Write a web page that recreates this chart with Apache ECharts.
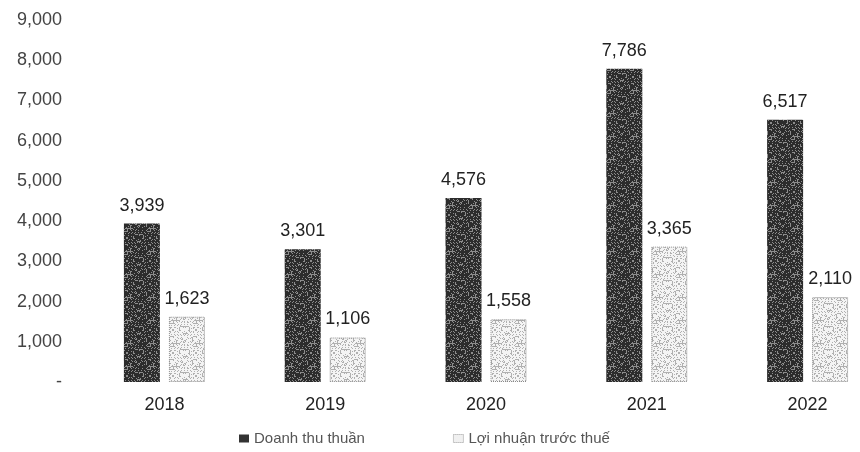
<!DOCTYPE html>
<html>
<head>
<meta charset="utf-8">
<script src="https://cdn.jsdelivr.net/npm/echarts@6/dist/echarts.min.js"></script>
<style>
  html, body { margin: 0; padding: 0; background: #fff; }
  #chart { width: 860px; height: 452px; }
</style>
</head>
<body>
<div id="chart"></div>
<script>
var years = ['2018', '2019', '2020', '2021', '2022']
var doanhThu = [3939, 3301, 4576, 7786, 6517]
var loiNhuan = [1623, 1106, 1558, 3365, 2110]
var seriesNames = ['Doanh thu thuần', 'Lợi nhuận trước thuế']

var font = 'Liberation Sans, Arial, sans-serif'

// repeating speckle texture, fixed hash so it looks like the printed screen
function makePattern (base, speck, cut) {
  var n = 23
  var c = document.createElement('canvas')
  c.width = n
  c.height = n
  var ctx = c.getContext('2d')
  ctx.fillStyle = base
  ctx.fillRect(0, 0, n, n)
  ctx.fillStyle = speck
  for (var x = 0; x < n; x++) {
    for (var y = 0; y < n; y++) {
      var h = (x * 73 + y * 151 + x * y * 29) % 97
      if (h < cut) ctx.fillRect(x, y, 1, 1)
    }
  }
  return { image: c, repeat: 'repeat' }
}
var darkFill = makePattern('#2c2c2c', '#8c8c8c', 22)
var lightFill = makePattern('#f4f4f4', '#b0b0b0', 26)

var chart = echarts.init(document.getElementById('chart'))

chart.setOption({
  backgroundColor: '#fff',
  animation: false,
  textStyle: { fontFamily: font },
  grid: {
    left: 84,
    top: 20,
    right: -28,
    bottom: 70,
    outerBoundsMode: 'none'
  },
  legend: {
    top: 426,
    left: 234,
    itemWidth: 10,
    itemHeight: 8,
    itemGap: 88,
    textStyle: { color: '#555', fontSize: 15, fontFamily: font },
    data: [
      { name: seriesNames[0], icon: 'rect', itemStyle: { color: '#333' } },
      { name: seriesNames[1], icon: 'rect', itemStyle: { color: '#f0f0f0', borderColor: '#999', borderWidth: 1, borderType: 'dotted' } }
    ]
  },
  xAxis: {
    type: 'category',
    data: years,
    axisLine: { show: false },
    axisTick: { show: false },
    axisLabel: { color: '#222', fontSize: 18, margin: 14 }
  },
  yAxis: {
    type: 'value',
    min: 0,
    max: 9000,
    interval: 1000,
    splitLine: { show: false },
    axisLine: { show: false },
    axisTick: { show: false },
    axisLabel: {
      color: '#444',
      fontSize: 18,
      margin: 22,
      formatter: function (v) {
        return v === 0 ? '-' : v.toLocaleString('en-US')
      }
    }
  },
  series: [
    {
      name: seriesNames[0],
      type: 'bar',
      data: doanhThu,
      barWidth: 36,
      barGap: '25%',
      itemStyle: { color: darkFill },
      label: {
        show: true,
        position: 'top',
        distance: 9,
        color: '#222',
        fontSize: 18,
        formatter: function (p) { return p.value.toLocaleString('en-US') }
      }
    },
    {
      name: seriesNames[1],
      type: 'bar',
      data: loiNhuan,
      barWidth: 36,
      itemStyle: { color: lightFill, borderColor: '#8a8a8a', borderWidth: 1, borderType: 'dotted' },
      label: {
        show: true,
        position: 'top',
        distance: 9,
        color: '#222',
        fontSize: 18,
        formatter: function (p) { return p.value.toLocaleString('en-US') }
      }
    }
  ]
})
</script>
</body>
</html>
